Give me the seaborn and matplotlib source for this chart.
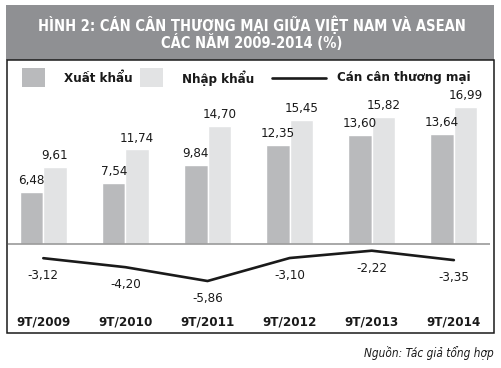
import numpy as np
import pandas as pd
import matplotlib.pyplot as plt
import seaborn as sns
from matplotlib.patches import Rectangle
from matplotlib.lines import Line2D

# Data

years = ["9T/2009", "9T/2010", "9T/2011", "9T/2012", "9T/2013", "9T/2014"]
exports = [6.48, 7.54, 9.84, 12.35, 13.60, 13.64]
imports = [9.61, 11.74, 14.70, 15.45, 15.82, 16.99]
balance = [-3.12, -4.20, -5.86, -3.10, -2.22, -3.35]

series_names = ["Xuất khẩu", "Nhập khẩu"]
line_name = "Cán cân thương mại"
title_lines = ["HÌNH 2: CÁN CÂN THƯƠNG MẠI GIỮA VIỆT NAM VÀ ASEAN",
               "CÁC NĂM 2009-2014 (%)"]
source = "Nguồn: Tác giả tổng hợp"

df = pd.DataFrame({
    "year": years * 2,
    "value": exports + imports,
    "series": [series_names[0]] * 6 + [series_names[1]] * 6,
})

# Style / fonts (condensed DejaVu is closest to the narrow original)

sns.set_style("white")
plt.rcParams["font.family"] = ["DejaVu Sans"]
plt.rcParams["font.stretch"] = "condensed"

W, H = 501, 368
fig = plt.figure(figsize=(W / 100, H / 100), dpi=100)


def fx(x):
    return x / W


def fy(y):
    return 1 - y / H


def fmt(v):
    return f"{v:.2f}".replace(".", ",")


# Axes placement (pixels)
top_px, bot_px = 100, 300
ax = fig.add_axes([fx(8), fy(bot_px), fx(490) - fx(8), fy(top_px) - fy(bot_px)])

bar_colors = ["#b9babc", "#e2e3e4"]
sns.barplot(data=df, x="year", y="value", hue="series", palette=bar_colors,
            width=0.57, gap=0, dodge=True, legend=False, ax=ax, saturation=1)

ax.set_xlim(-0.43, 5.44)
# bars: zero at 244 px, ~8.05 px per unit
ax.set_ylim(-(bot_px - 244) / 8.05, (244 - top_px) / 8.05)
ax.axhline(0, color="#9a9a9a", lw=1.2, zorder=1)

for cont in ax.containers:
    ax.bar_label(cont, labels=[fmt(v) for v in cont.datavalues],
                 padding=3.5, fontsize=9.5, color="#1a1a1a")

ax.set_xlabel("")
ax.set_ylabel("")
ax.set_yticks([])
ax.set_xticks(range(len(years)))
ax.set_xticklabels(years, fontsize=9.5, fontweight="bold", color="#1a1a1a")
ax.tick_params(axis="x", length=0, pad=11)
for s in ax.spines.values():
    s.set_visible(False)

# Balance line drawn on its own scale, as in the original
ax2 = ax.twinx()
ax2.set_position(ax.get_position())
ax2.set_ylim(-(bot_px - 232.2) / 8.33, (232.2 - top_px) / 8.33)
sns.lineplot(x=np.arange(len(years)), y=balance, color="#1a1a1a", lw=1.9, ax=ax2)
for i, v in enumerate(balance):
    ax2.annotate(fmt(v), (i, v), xytext=(0, -12.5),
                 textcoords="offset points", ha="center", va="center",
                 fontsize=9.5, color="#1a1a1a")
ax2.set_yticks([])
ax2.set_xlim(-0.43, 5.44)
for s in ax2.spines.values():
    s.set_visible(False)

# Title box
fig.add_artist(Rectangle((fx(6), fy(60)), fx(494) - fx(6), fy(5) - fy(60),
                         transform=fig.transFigure, facecolor="#8f9093", edgecolor="none"))
fig.text(fx(252), fy(25), title_lines[0], ha="center", va="center",
         color="white", fontsize=10.5, fontweight="bold")
fig.text(fx(252), fy(43), title_lines[1], ha="center", va="center",
         color="white", fontsize=10.5, fontweight="bold")

# Frame
fig.add_artist(Rectangle((fx(6.5), fy(333)), fx(494) - fx(6.5), fy(60) - fy(333),
                         transform=fig.transFigure, facecolor="none",
                         edgecolor="#1a1a1a", lw=1.1))

# Legend
fig.add_artist(Rectangle((fx(22), fy(86.5)), fx(23), fy(68) - fy(86.5),
                         transform=fig.transFigure, facecolor=bar_colors[0], edgecolor="none"))
fig.text(fx(64), fy(78), series_names[0], ha="left", va="center",
         fontsize=9.5, fontweight="bold", color="#1a1a1a")
fig.add_artist(Rectangle((fx(140), fy(86.5)), fx(23), fy(68) - fy(86.5),
                         transform=fig.transFigure, facecolor=bar_colors[1], edgecolor="none"))
fig.text(fx(182), fy(78), series_names[1], ha="left", va="center",
         fontsize=9.5, fontweight="bold", color="#1a1a1a")
fig.add_artist(Line2D([fx(272), fx(326)], [fy(77.5), fy(77.5)],
                      transform=fig.transFigure, color="#1a1a1a", lw=1.9))
fig.text(fx(337), fy(78), line_name, ha="left", va="center",
         fontsize=9.5, fontweight="bold", color="#1a1a1a")

# Source
fig.text(fx(494), fy(353), source, ha="right", va="center",
         fontsize=8.5, style="italic", color="#1a1a1a")

fig.savefig("out.png", dpi=100, facecolor="white")
